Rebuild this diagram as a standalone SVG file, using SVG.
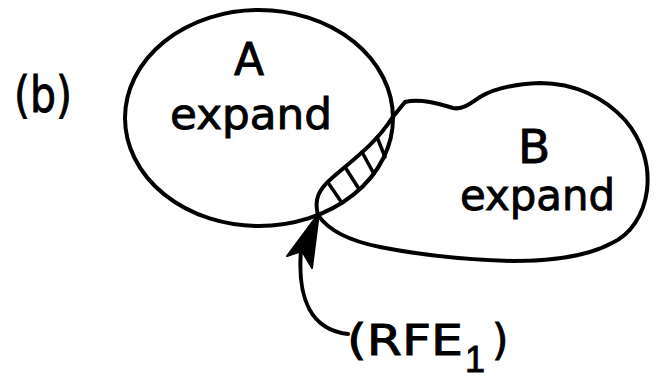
<svg xmlns="http://www.w3.org/2000/svg" width="657" height="383" viewBox="0 0 657 383">
  <style>
    .outline { fill: none; stroke: #000; stroke-width: 4; stroke-linejoin: round; stroke-linecap: round; }
    .hatch { fill: none; stroke: #000; stroke-width: 3.5; stroke-linecap: round; }
    .lbl { font-family: "DejaVu Sans", "Liberation Sans", sans-serif; fill: #000; stroke: #000; stroke-width: 0.9; }
    .head { fill: #000; stroke: #000; stroke-width: 2; stroke-linejoin: round; }
  </style>
  <rect width="657" height="383" fill="#fff"/>

  <!-- panel tag -->
  <g id="panel-label">
    <text class="lbl" x="14" y="112" font-size="49" textLength="58" lengthAdjust="spacingAndGlyphs">(b)</text>
  </g>

  <!-- region A -->
  <g id="node-A">
    <ellipse class="outline" cx="259" cy="118" rx="134" ry="108"/>
    <text class="lbl" x="249" y="75" font-size="44" text-anchor="middle">A</text>
    <text class="lbl" x="170" y="129" font-size="42" textLength="162" lengthAdjust="spacingAndGlyphs">expand</text>
  </g>

  <!-- region B -->
  <g id="node-B">
    <path class="outline" d="M392,118 L405,102 C420,98 440,104 453,108 C462,110 470,104 480,97 C495,88 515,84 540,83 C575,83 605,98 625,120 C642,140 650,165 647,190 C644,215 630,235 612,243 C590,255 560,261 513,261 C470,260 420,255 380,247 C350,241 328,230 318,215 C314,200 318,190 332,178 C350,162 375,145 392,118 Z"/>
    <text class="lbl" x="534" y="163" font-size="47" text-anchor="middle">B</text>
    <text class="lbl" x="460" y="210" font-size="42" textLength="155" lengthAdjust="spacingAndGlyphs">expand</text>
  </g>

  <!-- overlap of A and B, hatched -->
  <g id="overlap">
    <line class="hatch" x1="329" y1="184" x2="342" y2="203"/>
    <line class="hatch" x1="345" y1="167" x2="359" y2="189"/>
    <line class="hatch" x1="362" y1="152" x2="374" y2="174"/>
    <line class="hatch" x1="377" y1="137" x2="385" y2="157"/>
  </g>

  <!-- pointer from the label to the overlap -->
  <g id="connectors">
    <path class="outline" d="M348,334 C312,330 297,300 301,250"/>
    <path class="head" d="M319,213 L287,256 L302,251 L312,268 Z"/>
  </g>

  <!-- label -->
  <g id="label-RFE">
    <text class="lbl" font-size="42">
      <tspan x="347" y="355" textLength="116" lengthAdjust="spacingAndGlyphs">(RFE</tspan>
      <tspan x="465" y="372" font-size="36" font-family="Liberation Sans, sans-serif">1</tspan>
      <tspan x="492" y="355">)</tspan>
    </text>
  </g>
</svg>
